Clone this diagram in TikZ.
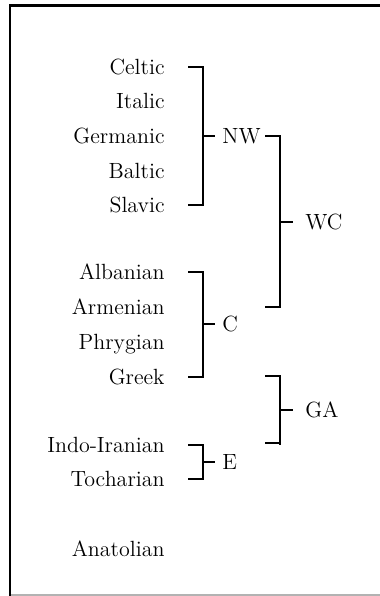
\documentclass[tikz,border=0pt]{standalone}
\usepackage{tikz}
\usetikzlibrary{calc,positioning}

\begin{document}
\begin{tikzpicture}[x=.5pt,y=-.5pt,font=\fontsize{11}{13}\selectfont,
    leaf/.style={anchor=east,inner xsep=0pt,inner ysep=0pt,text height=7.5pt,text depth=0pt},
    grp/.style={anchor=west,inner xsep=0pt,inner ysep=0pt,text height=7.5pt,text depth=0pt},
    brk/.style={line width=1.1pt}]
  \useasboundingbox (0,0) rectangle (380,596);
  % frame
  \draw[line width=1.2pt] (380,5.5) -- (10,5.5) -- (10,596);
  \draw[black!30,line width=.6pt] (11,595) -- (380,595);

  % branches
  \node[leaf] (celtic) at (165,67) {Celtic};
  \node[leaf] (italic) at (165,101) {Italic};
  \node[leaf] (germanic) at (165,136) {Germanic};
  \node[leaf] (baltic) at (165,171) {Baltic};
  \node[leaf] (slavic) at (165,205) {Slavic};
  \node[leaf] (albanian) at (165,272) {Albanian};
  \node[leaf] (armenian) at (165,307) {Armenian};
  \node[leaf] (phrygian) at (165,342) {Phrygian};
  \node[leaf] (greek) at (165,377) {Greek};
  \node[leaf] (indoiranian) at (165,445) {Indo-Iranian};
  \node[leaf] (tocharian) at (165,479) {Tocharian};
  \node[leaf] (anatolian) at (165,549) {Anatolian};

  % subgroups
  \node[grp] (nw) at (222,136) {NW};
  \node[grp] (c) at (222,324) {C};
  \node[grp] (e) at (222,462) {E};
  \node[grp] (wc) at (305,222) {WC};
  \node[grp] (ga) at (305,410) {GA};

  % first-level brackets
  \draw[brk] ($(celtic.east)+(23,0)$) -| ($(slavic.east)+(38,0)$) -- ($(slavic.east)+(23,0)$);
  \draw[brk] ($(nw.west)+(-19,0)$) -- ($(nw.west)+(-7,0)$);
  \draw[brk] ($(albanian.east)+(23,0)$) -| ($(greek.east)+(38,0)$) -- ($(greek.east)+(23,0)$);
  \draw[brk] ($(c.west)+(-19,0)$) -- ($(c.west)+(-7,0)$);
  \draw[brk] ($(indoiranian.east)+(23,0)$) -| ($(tocharian.east)+(38,0)$) -- ($(tocharian.east)+(23,0)$);
  \draw[brk] ($(e.west)+(-19,0)$) -- ($(e.west)+(-7,0)$);

  % second-level brackets
  \coordinate (wcbar) at ($(wc.west)+(-25,0)$);
  \coordinate (gabar) at ($(ga.west)+(-25,0)$);
  \draw[brk] ($(nw.east)+(4,0)$) -| (wcbar |- armenian) -- ++(-15,0);
  \draw[brk] (wcbar) -- ($(wc.west)+(-12,0)$);
  \draw[brk] (gabar |- greek) ++(-15,-1) -| (gabar |- indoiranian) ++(0,-2) -- ++(-15,0);
  \draw[brk] (gabar) -- ($(ga.west)+(-12,0)$);
\end{tikzpicture}
\end{document}
